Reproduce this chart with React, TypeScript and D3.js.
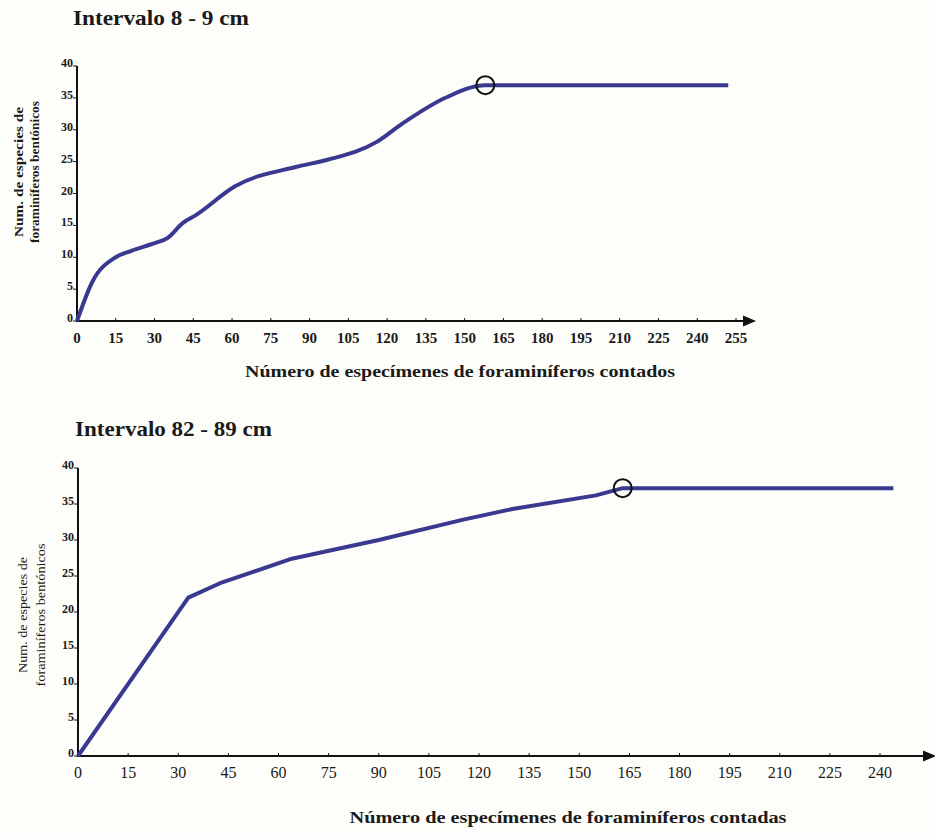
import React from "react";
import * as d3 from "d3";

// y ticks (shared) and x tick labels for each panel
const speciesTicks = [0, 5, 10, 15, 20, 25, 30, 35, 40];
const countTicksTop = [0, 15, 30, 45, 60, 75, 90, 105, 120, 135, 150, 165, 180, 195, 210, 225, 240, 255];
const countTicksBottom = [0, 15, 30, 45, 60, 75, 90, 105, 120, 135, 150, 165, 180, 195, 210, 225, 240];

// Intervalo 8 - 9 cm
const countsTop = [0, 6, 15, 21, 30, 35, 41, 46, 61, 85, 97, 116, 126, 143, 158, 252];
const speciesTop = [0, 6.2, 10, 11, 12.2, 13, 15.4, 16.6, 21.1, 24.2, 25.3, 28.1, 31, 35.1, 37, 37];
const markerTop = [158, 37];

// Intervalo 82 - 89 cm
const countsBottom = [0, 33, 42.5, 64, 90, 115, 130, 155, 163, 244];
const speciesBottom = [0, 22, 24, 27.4, 30, 32.8, 34.3, 36.2, 37.2, 37.2];
const markerBottom = [163, 37.2];

const FONT = "'Liberation Serif', 'Times New Roman', serif";
const LINE = "#3a3990";

const drawPanel = (svg, p) => {
  const x = d3.scaleLinear().domain([0, p.xMax]).range([p.left, p.xEnd]);
  const y = d3.scaleLinear().domain([0, 40]).range([p.bottom, p.top]);
  const g = svg.append("g").attr("font-family", FONT).attr("fill", "#1a1a1a");

  // title
  g.append("text")
    .attr("x", p.titleX).attr("y", p.titleY)
    .attr("font-size", 21).attr("font-weight", "bold")
    .attr("textLength", p.titleLen).attr("lengthAdjust", "spacingAndGlyphs")
    .text(p.title);

  // y axis
  g.append("line")
    .attr("x1", p.left).attr("x2", p.left)
    .attr("y1", p.top).attr("y2", p.bottom + 1)
    .attr("stroke", "#111").attr("stroke-width", 2);
  const yt = g.selectAll(".yt").data(p.yTicks).enter().append("g");
  yt.append("line")
    .attr("x1", p.left - 4).attr("x2", p.left)
    .attr("y1", (d) => y(d)).attr("y2", (d) => y(d))
    .attr("stroke", "#111").attr("stroke-width", 1);
  yt.append("text")
    .attr("x", p.left - 4).attr("y", (d) => y(d) + 1)
    .attr("text-anchor", "end").attr("font-size", 12).attr("font-weight", "bold")
    .text((d) => d);

  // x axis with arrow
  g.append("line")
    .attr("x1", p.left).attr("x2", p.arrowX - 10)
    .attr("y1", p.bottom).attr("y2", p.bottom)
    .attr("stroke", "#111").attr("stroke-width", 2);
  g.append("path")
    .attr("d", `M${p.arrowX},${p.bottom} L${p.arrowX - 13},${p.bottom - 5.5} L${p.arrowX - 13},${p.bottom + 5.5} Z`)
    .attr("fill", "#111");
  const xt = g.selectAll(".xt").data(p.xTicks).enter().append("g");
  xt.append("line")
    .attr("x1", (d) => x(d)).attr("x2", (d) => x(d))
    .attr("y1", p.bottom - 3).attr("y2", p.bottom)
    .attr("stroke", "#111").attr("stroke-width", 1);
  xt.append("text")
    .attr("x", (d) => x(d)).attr("y", p.bottom + p.xLabelDy)
    .attr("text-anchor", "middle").attr("font-size", p.xLabelSize)
    .attr("font-weight", p.xLabelWeight)
    .text((d) => d);

  // axis titles
  g.append("text")
    .attr("x", p.xTitleX).attr("y", p.xTitleY)
    .attr("text-anchor", "middle").attr("font-size", 17).attr("font-weight", "bold")
    .attr("textLength", p.xTitleLen).attr("lengthAdjust", "spacingAndGlyphs")
    .text(p.xTitle);
  p.yTitle.forEach((t, i) => {
    g.append("text")
      .attr("transform", `translate(${p.yTitleX[i]},${p.yTitleY}) rotate(-90)`)
      .attr("text-anchor", "middle").attr("font-size", 12)
      .attr("font-weight", p.yTitleWeight)
      .attr("textLength", p.yTitleLen[i]).attr("lengthAdjust", "spacingAndGlyphs")
      .text(t);
  });

  // curve
  const pts = p.counts.map((c, i) => [c, p.species[i]]);
  const line = d3.line()
    .x((d) => x(d[0]))
    .y((d) => y(d[1]))
    .curve(p.curve);
  g.append("path")
    .attr("d", line(pts))
    .attr("fill", "none")
    .attr("stroke", LINE)
    .attr("stroke-width", 4)
    .attr("stroke-linejoin", "round")
    .attr("stroke-linecap", "butt");

  // marker ring where the curve levels off
  g.append("circle")
    .attr("cx", x(p.marker[0])).attr("cy", y(p.marker[1]))
    .attr("r", 9)
    .attr("fill", "none").attr("stroke", "#111").attr("stroke-width", 2);
};

const App = () => {
  const svgRef = React.useRef(null);

  React.useEffect(() => {
    const svg = d3.select(svgRef.current);
    svg.selectAll("*").remove();
    svg.append("rect").attr("width", 935).attr("height", 834).attr("fill", "#fdfdf9");

    drawPanel(svg, {
      title: "Intervalo 8 - 9 cm", titleX: 73, titleY: 25, titleLen: 176,
      left: 77, xEnd: 736, xMax: 255, top: 66, bottom: 321, arrowX: 756,
      xTicks: countTicksTop, yTicks: speciesTicks,
      xLabelDy: 22, xLabelSize: 15, xLabelWeight: "bold",
      xTitle: "Número de especímenes de foraminíferos contados",
      xTitleX: 460, xTitleY: 377, xTitleLen: 430,
      yTitle: ["Num. de especies de", "foraminíferos bentónicos"],
      yTitleX: [23, 39], yTitleY: 172, yTitleLen: [130, 142], yTitleWeight: "bold",
      counts: countsTop, species: speciesTop, marker: markerTop,
      curve: d3.curveMonotoneX,
    });

    drawPanel(svg, {
      title: "Intervalo 82 - 89 cm", titleX: 75, titleY: 436, titleLen: 197,
      left: 78, xEnd: 880, xMax: 240, top: 468, bottom: 756, arrowX: 936,
      xTicks: countTicksBottom, yTicks: speciesTicks,
      xLabelDy: 22, xLabelSize: 16, xLabelWeight: "normal",
      xTitle: "Número de especímenes de foraminíferos contadas",
      xTitleX: 568, xTitleY: 823, xTitleLen: 437,
      yTitle: ["Num. de especies de", "foraminíferos bentónicos"],
      yTitleX: [27, 45], yTitleY: 615, yTitleLen: [116, 143], yTitleWeight: "normal",
      counts: countsBottom, species: speciesBottom, marker: markerBottom,
      curve: d3.curveLinear,
    });
  }, []);

  return (
    <svg
      ref={svgRef}
      width={935}
      height={834}
      style={{ position: "absolute", left: 0, top: 0, display: "block" }}
    />
  );
};

export default App;
